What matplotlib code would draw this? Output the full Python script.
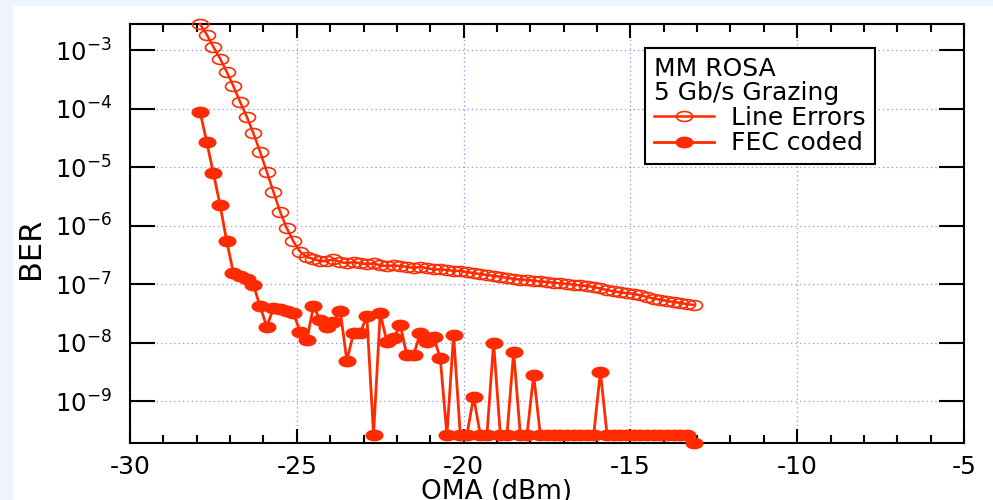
import numpy as np
import matplotlib
matplotlib.use("Agg")
import matplotlib.pyplot as plt
from matplotlib.path import Path
from matplotlib.patches import Rectangle
from matplotlib.transforms import Affine2D
from matplotlib.ticker import MultipleLocator, FixedLocator, NullLocator, LogFormatterMathtext

# OMA grid (dBm), 0.2 dB steps
oma_dbm = [-27.9, -27.7, -27.5, -27.3, -27.1, -26.9, -26.7, -26.5, -26.3, -26.1,
           -25.9, -25.7, -25.5, -25.3, -25.1, -24.9, -24.7, -24.5, -24.3, -24.1,
           -23.9, -23.7, -23.5, -23.3, -23.1, -22.9, -22.7, -22.5, -22.3, -22.1,
           -21.9, -21.7, -21.5, -21.3, -21.1, -20.9, -20.7, -20.5, -20.3, -20.1,
           -19.9, -19.7, -19.5, -19.3, -19.1, -18.9, -18.7, -18.5, -18.3, -18.1,
           -17.9, -17.7, -17.5, -17.3, -17.1, -16.9, -16.7, -16.5, -16.3, -16.1,
           -15.9, -15.7, -15.5, -15.3, -15.1, -14.9, -14.7, -14.5, -14.3, -14.1,
           -13.9, -13.7, -13.5, -13.3, -13.1]

ber_line = [2.78e-3, 1.85e-3, 1.14e-3, 7.2e-4, 4.26e-4, 2.43e-4, 1.31e-4, 7.3e-5, 3.8e-5, 1.84e-5,
            8.4e-6, 3.8e-6, 1.74e-6, 9.1e-7, 5.4e-7, 3.6e-7, 2.94e-7, 2.71e-7, 2.5e-7, 2.5e-7,
            2.7e-7, 2.4e-7, 2.3e-7, 2.4e-7, 2.3e-7, 2.2e-7, 2.3e-7, 2.1e-7, 2.05e-7, 2.1e-7,
            2.05e-7, 2.0e-7, 1.9e-7, 2.0e-7, 1.9e-7, 1.8e-7, 1.8e-7, 1.76e-7, 1.7e-7, 1.7e-7,
            1.63e-7, 1.56e-7, 1.5e-7, 1.45e-7, 1.4e-7, 1.35e-7, 1.3e-7, 1.24e-7, 1.21e-7, 1.19e-7,
            1.16e-7, 1.12e-7, 1.10e-7, 1.07e-7, 1.04e-7, 1.02e-7, 9.9e-8, 9.6e-8, 9.4e-8, 9.0e-8,
            8.5e-8, 8.0e-8, 7.6e-8, 7.3e-8, 7.1e-8, 6.9e-8, 6.5e-8, 6.1e-8, 5.7e-8, 5.5e-8,
            5.2e-8, 5.0e-8, 4.8e-8, 4.6e-8, 4.45e-8]

ber_fec = [8.9e-5, 2.7e-5, 7.9e-6, 2.27e-6, 5.4e-7, 1.57e-7, 1.39e-7, 1.24e-7, 9.8e-8, 4.2e-8,
           1.9e-8, 3.9e-8, 3.76e-8, 3.56e-8, 3.2e-8, 1.56e-8, 1.12e-8, 4.2e-8, 2.47e-8, 1.9e-8,
           2.3e-8, 3.56e-8, 5.0e-9, 1.46e-8, 1.46e-8, 2.9e-8, 2.7e-10, 3.2e-8, 1.05e-8, 1.2e-8,
           2.03e-8, 6.2e-9, 6.2e-9, 1.46e-8, 1.05e-8, 1.28e-8, 5.5e-9, 2.7e-10, 1.37e-8, 2.7e-10,
           2.7e-10, 1.21e-9, 2.7e-10, 2.7e-10, 1.01e-8, 2.7e-10, 2.7e-10, 7.1e-9, 2.7e-10, 2.7e-10,
           2.84e-9, 2.7e-10, 2.7e-10, 2.7e-10, 2.7e-10, 2.7e-10, 2.7e-10, 2.7e-10, 2.7e-10, 2.7e-10,
           3.24e-9, 2.7e-10, 2.7e-10, 2.7e-10, 2.7e-10, 2.7e-10, 2.7e-10, 2.7e-10, 2.7e-10, 2.7e-10,
           2.7e-10, 2.7e-10, 2.7e-10, 2.7e-10, 1.97e-10]

x_ticks = [-30, -25, -20, -15, -10, -5]
y_ticks = [1e-9, 1e-8, 1e-7, 1e-6, 1e-5, 1e-4, 1e-3]
legend_title = "MM ROSA\n5 Gb/s Grazing"
series_labels = ["Line Errors", "FEC coded"]

red = "#ff2a00"
plt.rcParams["font.family"] = "DejaVu Sans"
plt.rcParams["axes.unicode_minus"] = False

# the original markers are squashed ellipses
ellipse = Affine2D().scale(1.6, 1.0).transform_path(Path.unit_circle())

fig = plt.figure(figsize=(9.93, 5.0), dpi=100, facecolor="#edf4fc")
fig.patches.append(Rectangle((13 / 993, 0), 1, 1 - 6 / 500, transform=fig.transFigure,
                             facecolor="white", edgecolor="none", zorder=-10))
ax = fig.add_axes([130 / 993, 1 - 443 / 500, 834 / 993, 419 / 500])

ax.plot(oma_dbm, ber_line, color=red, lw=1.8, marker=ellipse, ms=11.5,
        mfc="none", mec=red, mew=1.2, clip_on=False, label=series_labels[0], zorder=3)
ax.plot(oma_dbm, ber_fec, color=red, lw=2.0, marker=ellipse, ms=12,
        mfc=red, mec=red, clip_on=False, label=series_labels[1], zorder=4)

ax.set_yscale("log")
ax.set_xlim(-30, -5)
ax.set_ylim(1.95e-10, 2.8e-3)

ax.xaxis.set_major_locator(FixedLocator(x_ticks))
ax.xaxis.set_minor_locator(MultipleLocator(1))
ax.yaxis.set_major_locator(FixedLocator(y_ticks))
ax.yaxis.set_major_formatter(LogFormatterMathtext())
ax.yaxis.set_minor_locator(NullLocator())

ax.tick_params(which="both", direction="in", top=True, right=True, width=1.5, colors="black")
ax.tick_params(axis="x", which="major", length=10, pad=9, labelsize=18)
ax.tick_params(axis="x", which="minor", length=5.5)
ax.tick_params(axis="y", which="major", length=18, pad=13, labelsize=17.5)
for s in ax.spines.values():
    s.set_linewidth(1.5)

ax.grid(True, which="major", linestyle=(0, (1, 2.5)), color="#8f8fff", lw=0.9)
ax.set_axisbelow(True)

ax.set_xlabel("OMA (dBm)", fontsize=19)
ax.xaxis.set_label_coords(0.44, -0.085)
ax.set_ylabel("BER", fontsize=22)
ax.yaxis.set_label_coords(-0.102, 0.465)

leg = ax.legend(loc="upper left", bbox_to_anchor=(0.6175, 0.9427), borderaxespad=0,
                title=legend_title, alignment="left", fontsize=18, title_fontsize=18,
                handlelength=2.4, handletextpad=0.7, borderpad=0.35, labelspacing=0.05,
                fancybox=False, framealpha=1, edgecolor="black")
leg.get_frame().set_linewidth(1.5)
leg._legend_title_box._text.set_linespacing(1.0)

fig.savefig("out.png", dpi=100, facecolor=fig.get_facecolor())
